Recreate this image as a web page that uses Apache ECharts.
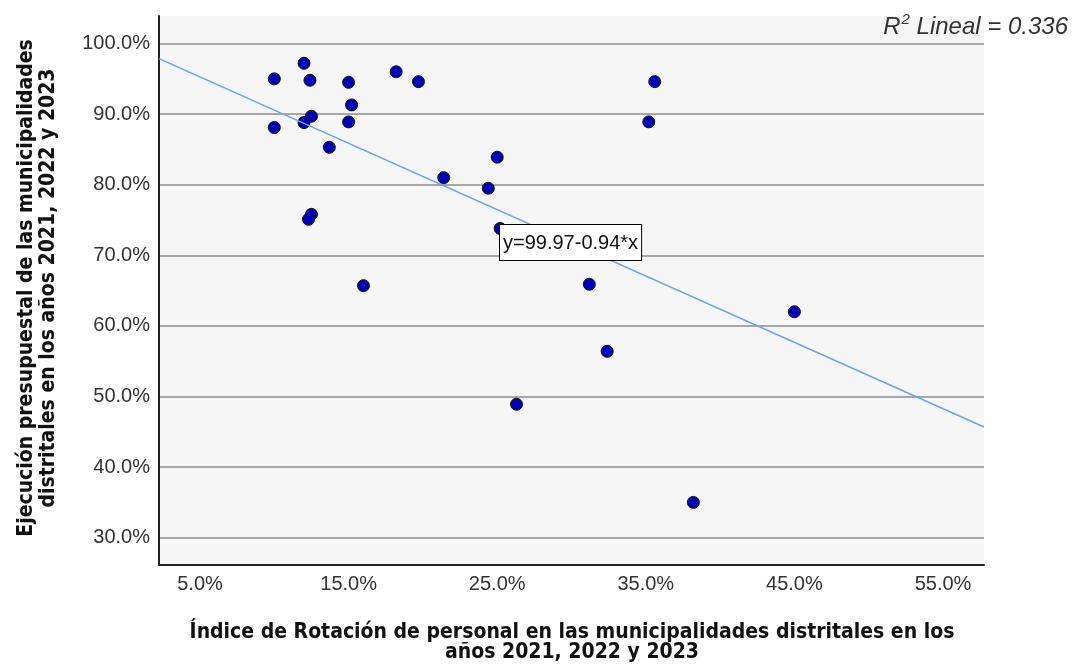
<!DOCTYPE html>
<html>
<head>
<meta charset="utf-8">
<script src="https://cdn.jsdelivr.net/npm/echarts@6/dist/echarts.min.js"></script>
<style>
  html, body { margin: 0; padding: 0; background: #fff; }
  #main { width: 1072px; height: 666px; }
</style>
</head>
<body>
<div id="main"></div>
<script>
// Índice de rotación (%) y ejecución presupuestal (%) por municipalidad
var rotacion = [10.0, 12.0, 12.4, 15.0, 18.2, 19.7, 15.2, 12.5, 12.0, 15.0, 10.0, 13.7, 25.0,
  21.4, 24.4, 12.5, 12.3, 25.2, 16.0, 31.2, 35.6, 35.2, 45.0, 32.4, 38.2, 26.3];
var ejecucion = [95.0, 97.2, 94.8, 94.5, 96.0, 94.6, 91.3, 89.7, 88.8, 88.9, 88.1, 85.3, 83.9,
  81.0, 79.5, 75.8, 75.1, 73.8, 65.7, 65.9, 94.6, 88.9, 62.0, 56.4, 35.0, 48.9];

// recta de ajuste (extremos)
var ajusteX = [2.24, 57.76];
var ajusteY = [97.86, 45.68];

var xTicks = [5, 15, 25, 35, 45, 55];
var yTicks = [30, 40, 50, 60, 70, 80, 90, 100];

var puntos = rotacion.map(function (v, i) { return [v, ejecucion[i]]; });
var recta = ajusteX.map(function (v, i) { return [v, ajusteY[i]]; });

var chart = echarts.init(document.getElementById('main'), null, { renderer: 'canvas' });

var tituloFont = '"DejaVu Sans Condensed", "Liberation Sans", Arial, sans-serif';
var baseFont = '"Liberation Sans", Arial, sans-serif';

var option = {
  backgroundColor: '#ffffff',
  animation: false,
  grid: {
    left: 159,
    top: 16,
    width: 825,
    height: 549,
    show: true,
    backgroundColor: '#f6f6f6',
    borderWidth: 0
  },
  xAxis: {
    type: 'value',
    min: 2.24,
    max: 57.76,
    axisLine: { show: true, onZero: false, lineStyle: { color: '#222', width: 2 } },
    axisTick: { show: false, customValues: xTicks },
    splitLine: { show: false },
    axisLabel: {
      customValues: xTicks,
      margin: 9,
      color: '#333',
      fontSize: 20,
      fontFamily: baseFont,
      formatter: function (v) { return v.toFixed(1) + '%'; }
    }
  },
  yAxis: {
    type: 'value',
    min: 26.13,
    max: 103.9,
    axisLine: { show: true, onZero: false, lineStyle: { color: '#222', width: 2 } },
    axisTick: { show: false, customValues: yTicks },
    splitLine: { show: true, lineStyle: { color: '#a8a8a8', width: 2 } },
    axisLabel: {
      customValues: yTicks,
      margin: 9,
      color: '#333',
      fontSize: 20,
      fontFamily: baseFont,
      formatter: function (v) { return v.toFixed(1) + '%'; }
    }
  },
  graphic: [
    {
      type: 'text',
      x: 572,
      y: 623,
      style: {
        text: 'Índice de Rotación de personal en las municipalidades distritales en los\naños 2021, 2022 y 2023',
        align: 'center',
        font: 'bold 21px ' + tituloFont,
        lineHeight: 20,
        fill: '#111'
      }
    },
    {
      type: 'text',
      x: 38,
      y: 288,
      rotation: Math.PI / 2,
      style: {
        text: 'Ejecución presupuestal de las municipalidades\ndistritales en los años 2021, 2022 y 2023',
        align: 'center',
        verticalAlign: 'middle',
        font: 'bold 21px ' + tituloFont,
        lineHeight: 22,
        fill: '#111'
      }
    },
    {
      type: 'text',
      right: 4,
      top: 12,
      z: 10,
      style: {
        text: '{i|R}{s|2}{i| Lineal = 0.336}',
        fill: '#333',
        rich: {
          i: { fontSize: 24, fontStyle: 'italic', fontFamily: baseFont, fill: '#333', verticalAlign: 'bottom' },
          s: { fontSize: 15, fontStyle: 'italic', fontFamily: baseFont, fill: '#333', verticalAlign: 'top', padding: [0, 0, 12, 1] }
        }
      }
    },
    {
      type: 'text',
      x: 500,
      y: 225,
      z: 10,
      style: {
        text: 'y=99.97-0.94*x',
        font: '20px ' + baseFont,
        lineHeight: 22,
        fill: '#111',
        backgroundColor: '#ffffff',
        borderColor: '#000',
        borderWidth: 1,
        padding: [7, 3, 6, 3]
      }
    }
  ],
  series: [
    {
      type: 'scatter',
      data: puntos,
      symbol: 'circle',
      symbolSize: 12,
      itemStyle: { color: '#0000b4', borderColor: '#111', borderWidth: 1, opacity: 1 },
      z: 2
    },
    {
      type: 'line',
      data: recta,
      symbol: 'none',
      lineStyle: { color: '#6aa3ee', width: 1.6 },
      z: 3,
      silent: true
    }
  ]
};

chart.setOption(option);
</script>
</body>
</html>
